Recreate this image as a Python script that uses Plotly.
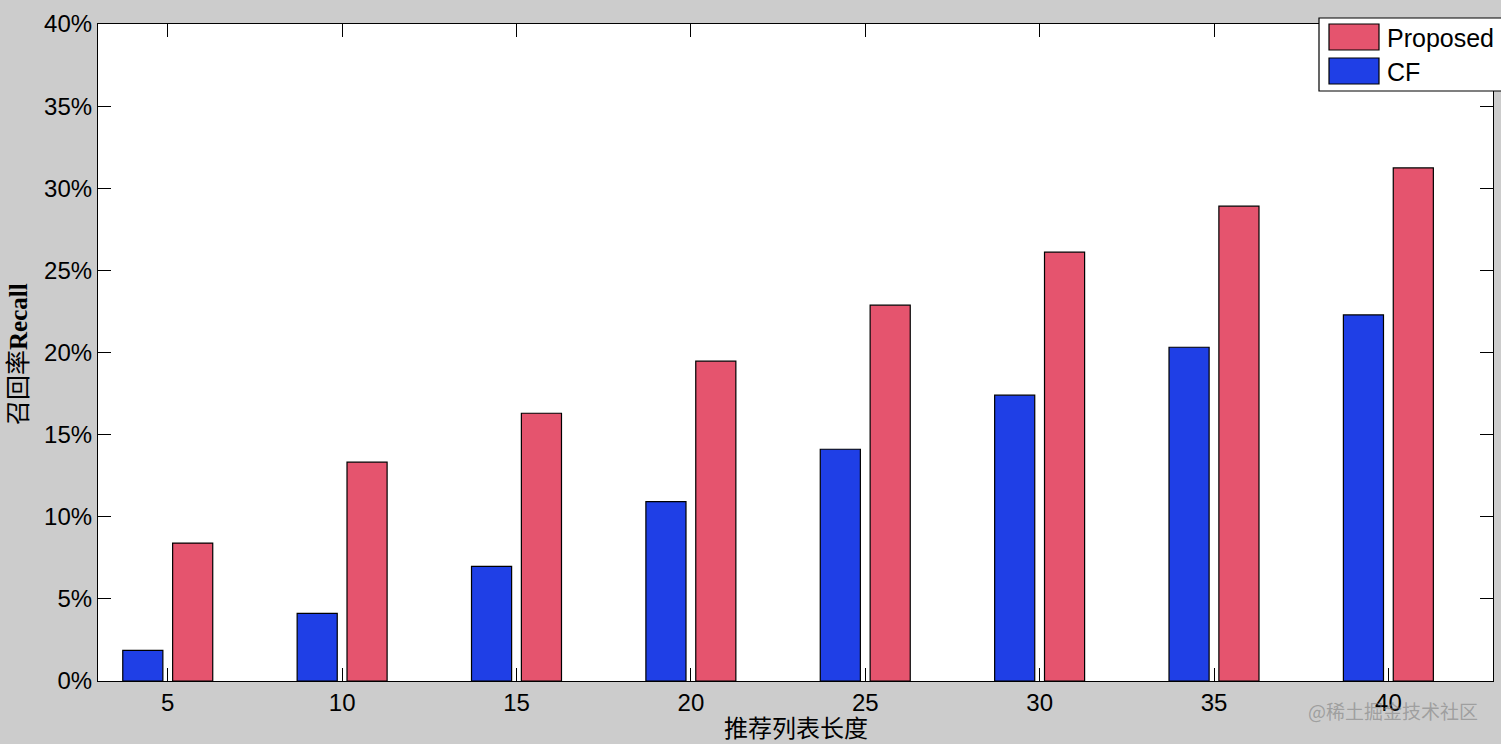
import plotly.graph_objects as go

list_len = [5, 10, 15, 20, 25, 30, 35, 40]
cf_recall = [1.87, 4.12, 6.98, 10.92, 14.11, 17.40, 20.32, 22.29]
proposed_recall = [8.40, 13.32, 16.30, 19.47, 22.88, 26.11, 28.91, 31.24]
y_ticks = [0, 5, 10, 15, 20, 25, 30, 35, 40]
series_names = ["Proposed", "CF"]

RED = "#E5546E"
BLUE = "#1F3FE6"
BAR_W = 1.15

# plot-area geometry in pixels (for legend decoration placement)
W, H = 1501, 744
ML, MR, MT, MB = 98, 8, 24, 63
PW, PH = W - ML - MR, H - MT - MB


def px(xp):
    return (xp - ML) / PW


def py(yp):
    return (H - MB - yp) / PH


fig = go.Figure()
fig.add_trace(go.Bar(
    x=list_len, y=cf_recall, name=series_names[1],
    width=BAR_W, offset=-0.715 - BAR_W / 2,
    marker=dict(color=BLUE, line=dict(color="black", width=1.2)),
))
fig.add_trace(go.Bar(
    x=list_len, y=proposed_recall, name=series_names[0],
    width=BAR_W, offset=0.715 - BAR_W / 2,
    marker=dict(color=RED, line=dict(color="black", width=1.2)),
))

axis_common = dict(
    showline=True, linecolor="black", linewidth=1.2, mirror="ticks",
    ticks="inside", ticklen=13, tickwidth=1.2, tickcolor="black",
    showgrid=False, zeroline=False,
    tickfont=dict(family="Liberation Sans, Arial", size=24, color="black"),
)

# custom legend (large swatches as in the reference)
shapes = [
    dict(type="rect", xref="paper", yref="paper",
         x0=px(1319), x1=px(1505), y0=py(91), y1=py(18),
         fillcolor="white", line=dict(color="black", width=1.2), layer="above"),
    dict(type="rect", xref="paper", yref="paper",
         x0=px(1329), x1=px(1379), y0=py(50), y1=py(24),
         fillcolor=RED, line=dict(color="black", width=1.2), layer="above"),
    dict(type="rect", xref="paper", yref="paper",
         x0=px(1329), x1=px(1379), y0=py(84), y1=py(58),
         fillcolor=BLUE, line=dict(color="black", width=1.2), layer="above"),
]

legend_font = dict(family="Liberation Sans, Arial", size=25, color="black")

fig.update_layout(
    width=W, height=H,
    paper_bgcolor="#CCCCCC", plot_bgcolor="white",
    margin=dict(l=ML, r=MR, t=MT, b=MB),
    barmode="overlay",
    showlegend=False,
    xaxis=dict(range=[3, 43], tickvals=list_len, ticktext=[str(v) for v in list_len], **axis_common),
    yaxis=dict(range=[0, 40], tickvals=y_ticks, ticktext=[f"{v}%" for v in y_ticks], **axis_common),
    shapes=shapes,
    annotations=[
        dict(text=series_names[0], xref="paper", yref="paper",
             x=px(1385), y=py(38), xanchor="left", yanchor="middle",
             showarrow=False, font=legend_font),
        dict(text=series_names[1], xref="paper", yref="paper",
             x=px(1385), y=py(72), xanchor="left", yanchor="middle",
             showarrow=False, font=legend_font),
        dict(text="召回率<b>Recall</b>", xref="paper", yref="paper",
             x=px(18), y=py(354), xanchor="center", yanchor="middle", textangle=-90,
             showarrow=False,
             font=dict(family="Liberation Serif, Noto Sans CJK SC", size=25, color="black")),
        dict(text="推荐列表长度", xref="paper", yref="paper",
             x=0.5, y=py(727), xanchor="center", yanchor="middle", showarrow=False,
             borderpad=0,
             font=dict(family="Noto Sans CJK SC", size=24, color="black")),
        dict(text="@稀土掘金技术社区", xref="paper", yref="paper",
             x=px(1480), y=py(711), xanchor="right", yanchor="middle", showarrow=False,
             font=dict(family="Noto Sans CJK SC", size=19, color="rgba(120,120,120,0.55)")),
    ],
)

fig.write_html("out.html", config={"displayModeBar": False},
               post_script="document.body.style.margin='0px';")
